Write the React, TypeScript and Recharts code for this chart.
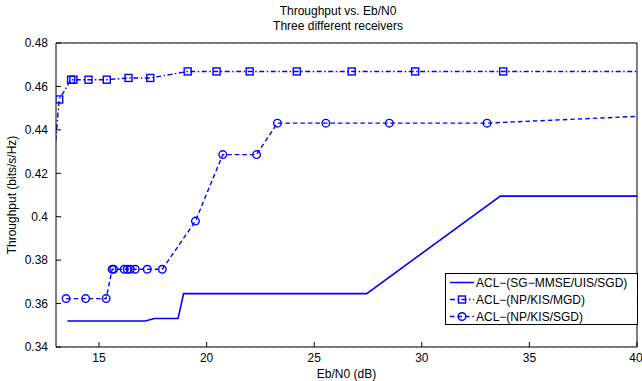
import React from 'react';
import { LineChart, Line, XAxis, YAxis, CartesianGrid, Legend } from 'recharts';

const xTicks = [15, 20, 25, 30, 35, 40];
const yTicks = [0.34, 0.36, 0.38, 0.4, 0.42, 0.44, 0.46, 0.48];

const seriesNames = ['ACL\u2212(SG\u2212MMSE/UIS/SGD)', 'ACL\u2212(NP/KIS/MGD)', 'ACL\u2212(NP/KIS/SGD)'];

const sgX = [13.53, 17.15, 17.57, 18.67, 18.93, 27.44, 33.65, 40];
const sgY = [0.352, 0.352, 0.3531, 0.3531, 0.3646, 0.3646, 0.4095, 0.4095];

const mgdX = [12.8, 13.15, 13.7, 13.81, 14.51, 15.36, 16.37, 17.38, 19.12, 20.46, 22.0, 24.19, 26.74, 29.69, 33.78, 42];
const mgdY = [0.414, 0.454, 0.4631, 0.4631, 0.4631, 0.4631, 0.4639, 0.4639, 0.4669, 0.4669, 0.4669, 0.4669, 0.4669, 0.4669, 0.4669, 0.4669];

const sgdX = [13.47, 14.38, 15.33, 15.61, 15.68, 16.17, 16.31, 16.45, 16.68, 17.24, 17.94, 19.48, 20.75, 22.32, 23.29, 25.54, 28.49, 33.03, 42];
const sgdY = [0.3623, 0.3623, 0.3623, 0.3758, 0.3758, 0.3758, 0.3758, 0.3758, 0.3758, 0.3758, 0.3758, 0.398, 0.4286, 0.4286, 0.4431, 0.4431, 0.4431, 0.4431, 0.4471];

const toData = (xs: number[], ys: number[]) => xs.map((x, i) => ({ x, y: ys[i] }));
const sgData = toData(sgX, sgY);
const mgdData = toData(mgdX, mgdY);
const sgdData = toData(sgdX, sgdY);

const BLUE = '#0000ff';
const FONT = '"Liberation Sans", Arial, sans-serif';
const FS = 12;

const SquareDot = (props: any) => {
  const { cx, cy } = props;
  if (cx == null || cy == null) return null;
  return <rect x={cx - 3.5} y={cy - 3.5} width={7} height={7} fill="none" stroke={BLUE} strokeWidth={1.4} />;
};
const CircleDot = (props: any) => {
  const { cx, cy } = props;
  if (cx == null || cy == null) return null;
  return <circle cx={cx} cy={cy} r={3.8} fill="none" stroke={BLUE} strokeWidth={1.4} />;
};

const fmt = (v: number) => String(+v.toFixed(2));

const LegendBox = () => {
  const rows = [
    { dash: undefined as string | undefined, marker: null as any },
    { dash: '5 2.5 1.5 2.5', marker: 'square' },
    { dash: '4.5 3', marker: 'circle' },
  ];
  return (
    <svg width={193} height={52} style={{ display: 'block' }}>
      <rect x={0.5} y={0.5} width={192} height={51} fill="#fff" stroke="#000" strokeWidth={1} />
      {rows.map((r, i) => {
        const y = 9.5 + i * 17;
        return (
          <g key={i}>
            <line x1={5} x2={29} y1={y} y2={y} stroke={BLUE} strokeWidth={1.5} strokeDasharray={r.dash} />
            {r.marker === 'square' && <rect x={13.5} y={y - 3.5} width={7} height={7} fill="none" stroke={BLUE} strokeWidth={1.4} />}
            {r.marker === 'circle' && <circle cx={17} cy={y} r={3.8} fill="none" stroke={BLUE} strokeWidth={1.4} />}
            <text x={31} y={y + 4.3} fontFamily={FONT} fontSize={FS} fill="#000">{seriesNames[i]}</text>
          </g>
        );
      })}
    </svg>
  );
};

export default function App() {
  return (
    <div style={{ position: 'absolute', left: 0, top: 0, width: 642, height: 381, background: '#fff', fontFamily: FONT }}>
      <div style={{ position: 'absolute', left: 138, width: 400, top: 4, textAlign: 'center', fontSize: FS, lineHeight: '15px', color: '#000' }}>
        <div>Throughput vs. Eb/N0</div>
        <div>Three different receivers</div>
      </div>
      <LineChart width={642} height={381} margin={{ top: 43, right: 5, bottom: 0, left: 0 }}>
        <CartesianGrid vertical={false} stroke="#a8a8a8" strokeDasharray="1 3" />
        <XAxis
          xAxisId="main"
          type="number"
          dataKey="x"
          domain={[13, 40]}
          ticks={xTicks}
          allowDataOverflow
          height={34}
          axisLine={{ stroke: '#000' }}
          tickLine={{ stroke: '#000' }}
          tickSize={-5}
          tickMargin={11}
          tick={{ fill: '#000', fontSize: FS, fontFamily: FONT }}
          label={{ value: 'Eb/N0 (dB)', position: 'insideBottom', offset: 3, fill: '#000', fontSize: FS, fontFamily: FONT }}
        />
        <XAxis
          xAxisId="top"
          orientation="top"
          type="number"
          dataKey="x"
          domain={[13, 40]}
          ticks={xTicks}
          allowDataOverflow
          mirror
          tick={false}
          tickSize={5}
          axisLine={{ stroke: '#000' }}
          tickLine={{ stroke: '#000' }}
        />
        <YAxis
          yAxisId="main"
          type="number"
          domain={[0.34, 0.48]}
          ticks={yTicks}
          allowDataOverflow
          width={56}
          axisLine={{ stroke: '#000' }}
          tickLine={{ stroke: '#000' }}
          tickSize={-5}
          tickMargin={13}
          tickFormatter={fmt}
          tick={{ fill: '#000', fontSize: FS, fontFamily: FONT }}
          label={{ value: 'Throughput (bits/s/Hz)', angle: -90, position: 'insideLeft', offset: 12, fill: '#000', fontSize: FS, fontFamily: FONT, style: { textAnchor: 'middle' } }}
        />
        <YAxis
          yAxisId="right"
          orientation="right"
          type="number"
          domain={[0.34, 0.48]}
          ticks={yTicks}
          allowDataOverflow
          mirror
          tick={false}
          tickSize={5}
          axisLine={{ stroke: '#000' }}
          tickLine={{ stroke: '#000' }}
        />
        <Line xAxisId="main" yAxisId="main" data={sgData} dataKey="y" name={seriesNames[0]} stroke={BLUE} strokeWidth={1.6} dot={false} isAnimationActive={false} />
        <Line xAxisId="main" yAxisId="main" data={mgdData} dataKey="y" name={seriesNames[1]} stroke={BLUE} strokeWidth={1.4} strokeDasharray="5 2.5 1.5 2.5" dot={<SquareDot />} activeDot={false} isAnimationActive={false} />
        <Line xAxisId="main" yAxisId="main" data={sgdData} dataKey="y" name={seriesNames[2]} stroke={BLUE} strokeWidth={1.4} strokeDasharray="4.5 3" dot={<CircleDot />} activeDot={false} isAnimationActive={false} />
        <Legend
          layout="horizontal"
          verticalAlign="middle"
          align="center"
          content={<LegendBox />}
          wrapperStyle={{ left: 445, top: 273, width: 193, height: 52, position: 'absolute' }}
        />
      </LineChart>
    </div>
  );
}
